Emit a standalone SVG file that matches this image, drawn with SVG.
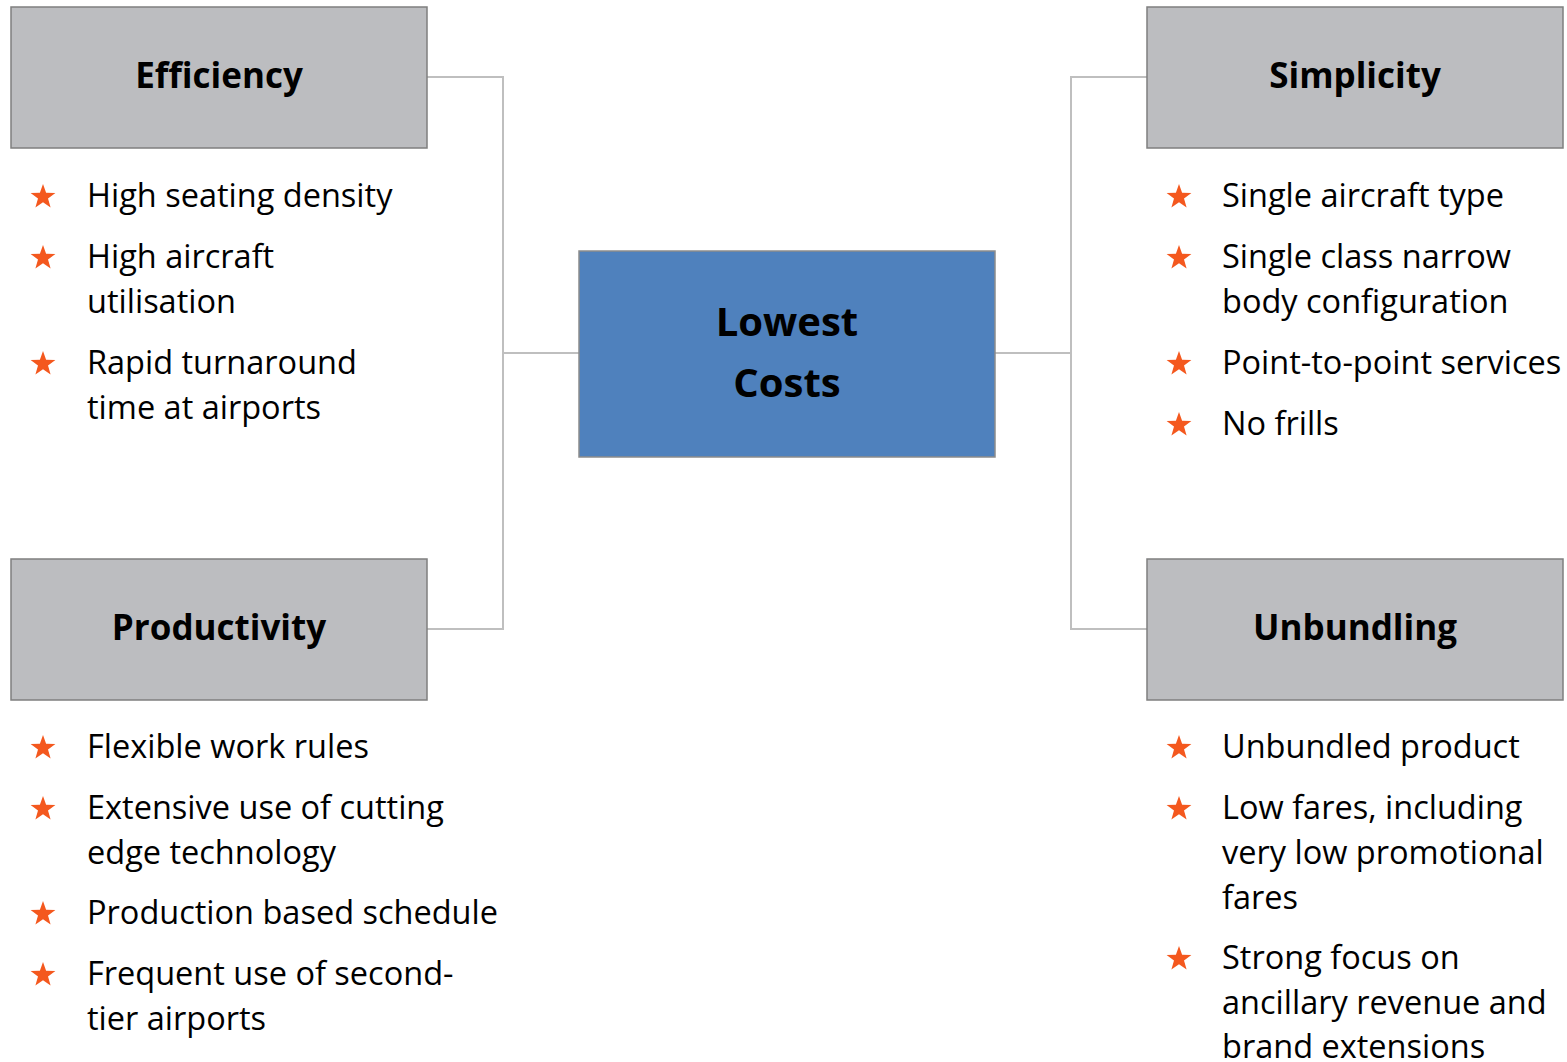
<svg xmlns="http://www.w3.org/2000/svg" width="1567" height="1062" viewBox="0 0 1567 1062">
<defs>
<style>
.hdr{fill:#BCBDC0;stroke:#7F7F7F;stroke-width:1.5}
.ctr{fill:#4F81BD;stroke:#8C8C8C;stroke-width:1.5}
.ht{font-family:"Open Sans","Liberation Sans",sans-serif;font-weight:bold;font-size:35px;fill:#000;text-anchor:middle}
.ct{font-family:"Open Sans","Liberation Sans",sans-serif;font-weight:bold;font-size:40px;fill:#000;text-anchor:middle}
.bt{font-family:"Open Sans","Liberation Sans",sans-serif;font-size:32.5px;fill:#000}
.conn{fill:none;stroke:#BFBFBF;stroke-width:2}
</style>
<polygon id="star" points="0,-13 3.1,-4.2 12.4,-4 5,1.6 7.6,10.5 0,5.2 -7.6,10.5 -5,1.6 -12.4,-4 -3.1,-4.2" fill="#F4581E"/>
</defs>
<g id="connectors">
<polyline class="conn" points="427,77 503,77 503,629 427,629"/>
<line class="conn" x1="503" y1="353" x2="579" y2="353"/>
<polyline class="conn" points="1147,77 1071,77 1071,629 1147,629"/>
<line class="conn" x1="995" y1="353" x2="1071" y2="353"/>
</g>
<g id="efficiency">
<rect class="hdr" x="11" y="7" width="416" height="141"/>
<text class="ht" x="219" y="88">Efficiency</text>
<use href="#star" x="43" y="197"/>
<text class="bt" x="87" y="207">High seating density</text>
<use href="#star" x="43" y="258"/>
<text class="bt" x="87" y="268">High aircraft</text>
<text class="bt" x="87" y="313">utilisation</text>
<use href="#star" x="43" y="364"/>
<text class="bt" x="87" y="374">Rapid turnaround</text>
<text class="bt" x="87" y="419">time at airports</text>
</g>
<g id="productivity">
<rect class="hdr" x="11" y="559" width="416" height="141"/>
<text class="ht" x="219" y="640">Productivity</text>
<use href="#star" x="43" y="748"/>
<text class="bt" x="87" y="758">Flexible work rules</text>
<use href="#star" x="43" y="809"/>
<text class="bt" x="87" y="819">Extensive use of cutting</text>
<text class="bt" x="87" y="864">edge technology</text>
<use href="#star" x="43" y="914"/>
<text class="bt" x="87" y="924">Production based schedule</text>
<use href="#star" x="43" y="975"/>
<text class="bt" x="87" y="985">Frequent use of second-</text>
<text class="bt" x="87" y="1030">tier airports</text>
</g>
<g id="lowest-costs">
<rect class="ctr" x="579" y="251" width="416" height="206"/>
<text class="ct" x="787" y="336">Lowest</text>
<text class="ct" x="787" y="397">Costs</text>
</g>
<g id="simplicity">
<rect class="hdr" x="1147" y="7" width="416" height="141"/>
<text class="ht" x="1355" y="88">Simplicity</text>
<use href="#star" x="1179" y="197"/>
<text class="bt" x="1222" y="207">Single aircraft type</text>
<use href="#star" x="1179" y="258"/>
<text class="bt" x="1222" y="268">Single class narrow</text>
<text class="bt" x="1222" y="313">body configuration</text>
<use href="#star" x="1179" y="364"/>
<text class="bt" x="1222" y="374">Point-to-point services</text>
<use href="#star" x="1179" y="425"/>
<text class="bt" x="1222" y="435">No frills</text>
</g>
<g id="unbundling">
<rect class="hdr" x="1147" y="559" width="416" height="141"/>
<text class="ht" x="1355" y="640">Unbundling</text>
<use href="#star" x="1179" y="748"/>
<text class="bt" x="1222" y="758">Unbundled product</text>
<use href="#star" x="1179" y="809"/>
<text class="bt" x="1222" y="819">Low fares, including</text>
<text class="bt" x="1222" y="864">very low promotional</text>
<text class="bt" x="1222" y="909">fares</text>
<use href="#star" x="1179" y="959"/>
<text class="bt" x="1222" y="969">Strong focus on</text>
<text class="bt" x="1222" y="1014">ancillary revenue and</text>
<text class="bt" x="1222" y="1058">brand extensions</text>
</g>
</svg>
